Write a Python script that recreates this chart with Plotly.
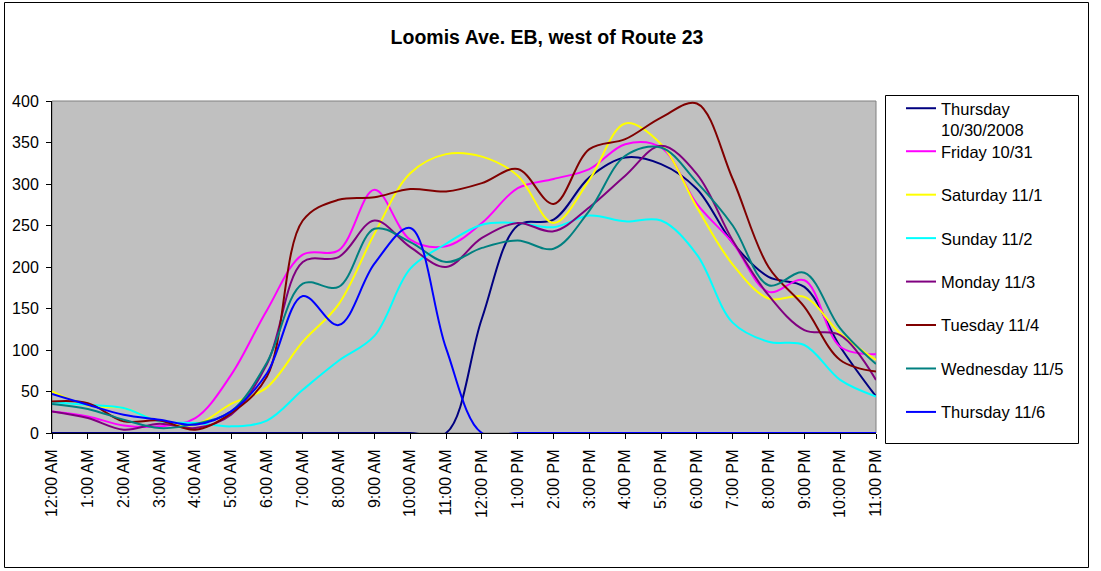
import plotly.graph_objects as go

hours = ["12:00 AM", "1:00 AM", "2:00 AM", "3:00 AM", "4:00 AM", "5:00 AM", "6:00 AM",
         "7:00 AM", "8:00 AM", "9:00 AM", "10:00 AM", "11:00 AM", "12:00 PM", "1:00 PM",
         "2:00 PM", "3:00 PM", "4:00 PM", "5:00 PM", "6:00 PM", "7:00 PM", "8:00 PM",
         "9:00 PM", "10:00 PM", "11:00 PM"]

thu_1030 = [0, 0, 0, 0, 0, 0, 0, 0, 0, 0, 0, 0, 138, 250, 257, 308, 332, 324, 294, 229, 188, 176, 104, 44]
fri_1031 = [26, 20, 9, 8, 18, 70, 148, 215, 220, 293, 233, 225, 253, 295, 306, 318, 348, 344, 276, 229, 170, 184, 104, 95]
sat_111 = [50, 33, 30, 14, 10, 35, 55, 110, 155, 240, 313, 336, 333, 310, 253, 305, 373, 348, 272, 203, 162, 164, 120, 88]
sun_112 = [37, 34, 30, 14, 12, 8, 15, 52, 87, 117, 198, 228, 251, 253, 248, 262, 255, 256, 215, 133, 110, 106, 64, 44]
mon_113 = [26, 18, 4, 11, 6, 22, 83, 206, 212, 256, 224, 200, 235, 253, 243, 272, 310, 346, 312, 232, 166, 124, 118, 64]
tue_114 = [38, 36, 14, 15, 4, 24, 68, 256, 281, 284, 294, 291, 301, 318, 276, 342, 354, 380, 397, 306, 200, 152, 88, 74]
wed_115 = [35, 29, 16, 6, 11, 26, 85, 180, 176, 246, 230, 206, 223, 232, 222, 268, 334, 344, 302, 250, 178, 193, 126, 83]
thu_116 = [47, 34, 22, 16, 10, 26, 72, 165, 130, 204, 247, 102, 0, 0, 0, 0, 0, 0, 0, 0, 0, 0, 0, 0]

series_names = ["Thursday<br>10/30/2008", "Friday 10/31", "Saturday 11/1", "Sunday 11/2",
                "Monday 11/3", "Tuesday 11/4", "Wednesday 11/5", "Thursday 11/6"]
series_values = [thu_1030, fri_1031, sat_111, sun_112, mon_113, tue_114, wed_115, thu_116]
series_colors = ["#000080", "#FF00FF", "#FFFF00", "#00FFFF", "#800080", "#800000", "#008080", "#0000FF"]

FONT = "Liberation Sans, Arial, sans-serif"
W, H = 1101, 571
PL, PR, PT, PB = 52, 876, 101, 433

fig = go.Figure()
for i, (name, vals, col) in enumerate(zip(series_names, series_values, series_colors)):
    fig.add_trace(go.Scatter(
        x=hours, y=vals, name=name, mode="lines",
        line=dict(color=col, width=2, shape="spline", smoothing=1.0),
        legend="legend" if i == 0 else "legend2",
        legendgroup=f"g{i}",
    ))

def px_x(px):
    return (px - PL) / (PR - PL)

def px_y(py):
    return (PB - py) / (PB - PT)

shapes = [
    dict(type="rect", xref="paper", yref="paper", x0=0, x1=1, y0=0, y1=1,
         line=dict(color="#808080", width=1), fillcolor="rgba(0,0,0,0)", layer="below"),
    dict(type="rect", xref="paper", yref="paper", x0=px_x(4.5), x1=px_x(1088.5),
         y0=px_y(567.5), y1=px_y(2.5), line=dict(color="black", width=1)),
    dict(type="rect", xref="paper", yref="paper", x0=px_x(885.5), x1=px_x(1078.5),
         y0=px_y(443.5), y1=px_y(95.5), line=dict(color="black", width=1)),
]

legend_common = dict(
    bgcolor="rgba(0,0,0,0)", borderwidth=0,
    font=dict(family=FONT, size=16.5, color="black"),
    xref="container", yref="container", xanchor="left", yanchor="top",
    itemclick=False, itemdoubleclick=False, maxheight=500,
)

fig.update_layout(
    width=W, height=H,
    margin=dict(l=PL, r=W - PR, t=PT, b=H - PB),
    paper_bgcolor="white", plot_bgcolor="#C0C0C0",
    title=dict(text="<b>Loomis Ave. EB, west of Route 23</b>",
               font=dict(family=FONT, size=19.5, color="black"),
               x=547 / W, xanchor="center", xref="container",
               y=1 - 37 / H, yanchor="middle", yref="container"),
    font=dict(family=FONT, color="black"),
    showlegend=True,
    hovermode=False,
    legend=dict(**legend_common, x=901 / W, y=1 - 91 / H, valign="top",
                traceorder="normal"),
    legend2=dict(**legend_common, x=901 / W, y=1 - 134 / H, traceorder="grouped",
                 tracegroupgap=19),
    shapes=shapes,
    xaxis=dict(
        type="category", categoryorder="array", categoryarray=hours,
        range=[0, len(hours) - 1],
        showgrid=False, zeroline=False,
        showline=True, linecolor="black", linewidth=1,
        ticks="outside", ticklen=5, tickcolor="black", tickwidth=1,
        tickangle=-90, tickfont=dict(family=FONT, size=16, color="black"),
        ticklabelstandoff=4,
    ),
    yaxis=dict(
        range=[0, 400], dtick=50, tick0=0,
        showgrid=False, zeroline=False,
        showline=True, linecolor="black", linewidth=1,
        ticks="outside", ticklen=5, tickcolor="black", tickwidth=1,
        tickfont=dict(family=FONT, size=16, color="black"),
        ticklabelstandoff=4,
    ),
)

fig.write_html("out.html",
               config={"displayModeBar": False, "staticPlot": True},
               post_script="document.body.style.margin='0';document.body.style.overflow='hidden';")
